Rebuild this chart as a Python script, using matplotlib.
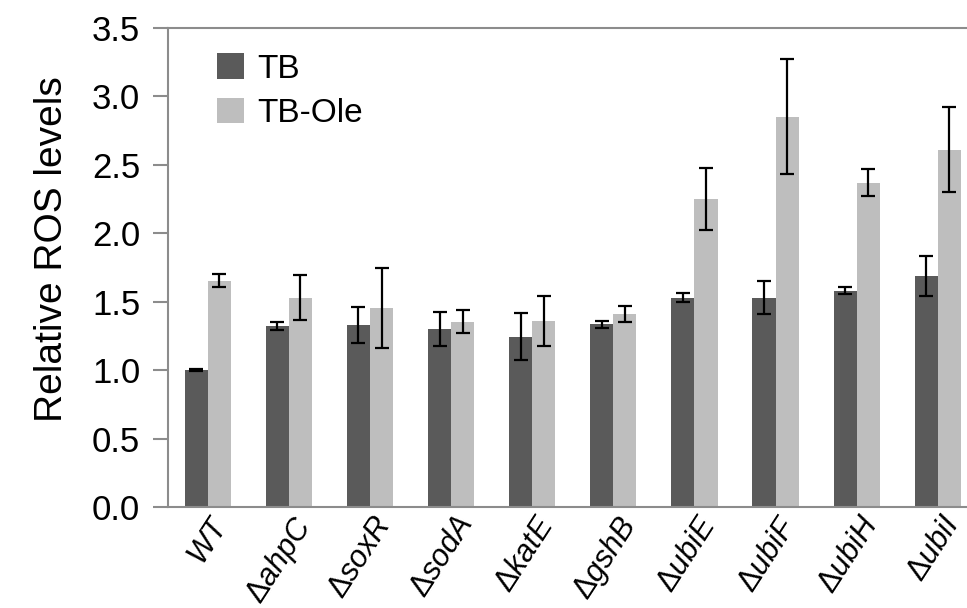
import numpy as np
import matplotlib.pyplot as plt
import matplotlib.transforms as mtransforms

plt.rcParams.update({
    'font.family': 'Liberation Sans',
    'mathtext.fontset': 'custom',
    'mathtext.rm': 'Liberation Sans',
    'mathtext.it': 'Liberation Sans:italic',
})

strains = ['WT', 'ahpC', 'soxR', 'sodA', 'katE', 'gshB', 'ubiE', 'ubiF', 'ubiH', 'ubiI']
tb = [1.00, 1.32, 1.33, 1.30, 1.245, 1.335, 1.53, 1.53, 1.58, 1.69]
tb_err = [0.005, 0.03, 0.13, 0.125, 0.17, 0.026, 0.035, 0.12, 0.025, 0.145]
tb_ole = [1.655, 1.53, 1.455, 1.355, 1.36, 1.41, 2.25, 2.85, 2.37, 2.61]
tb_ole_err = [0.05, 0.165, 0.295, 0.083, 0.185, 0.057, 0.225, 0.42, 0.10, 0.31]

labels = [r'$\mathit{WT}$'] + [r'$\Delta\mathit{%s}$' % s for s in strains[1:]]

fig = plt.figure(figsize=(9.67, 6.08), dpi=100)
ax = fig.add_axes([168/967, 101/608, (967-168)/967, (507-28)/608])

x = np.arange(len(strains))
w = 0.285
err_kw = dict(ecolor='black', elinewidth=1.6, capsize=4.8, capthick=1.6)
ax.bar(x - w/2, tb, w, yerr=tb_err, color='#5a5a5a', label='TB', error_kw=err_kw)
ax.bar(x + w/2, tb_ole, w, yerr=tb_ole_err, color='#bebebe', label='TB-Ole', error_kw=err_kw)

ax.set_ylim(0, 3.5)
ax.set_xlim(-0.49, 9.36)
ticks = np.arange(0, 3.51, 0.5)
ax.set_yticks(ticks)
ax.set_yticklabels(['%.1f' % v for v in ticks])
ax.tick_params(axis='y', length=11, width=1.5, color='#8c8c8c', pad=9, labelsize=25)
ax.set_xticks(x)
ax.set_xticklabels(labels, rotation=57, ha='right', rotation_mode='anchor', fontsize=22)
ax.tick_params(axis='x', length=0, pad=3)
offset = mtransforms.ScaledTranslation(3/100, 0, fig.dpi_scale_trans)
for lbl in ax.get_xticklabels():
    lbl.set_transform(lbl.get_transform() + offset)

for side in ['left', 'bottom', 'top']:
    ax.spines[side].set_color('#8c8c8c')
    ax.spines[side].set_linewidth(1.5)
ax.spines['right'].set_visible(False)

ax.set_ylabel('Relative ROS levels', fontsize=28)
ax.yaxis.set_label_coords(-0.123, 0.539)
ax.legend(loc='upper left', frameon=False, fontsize=24, handlelength=0.8, handleheight=0.8,
          handletextpad=0.4, labelspacing=0.4, borderaxespad=0.0, bbox_to_anchor=(0.045, 0.975))

fig.savefig('out.png', dpi=100)
